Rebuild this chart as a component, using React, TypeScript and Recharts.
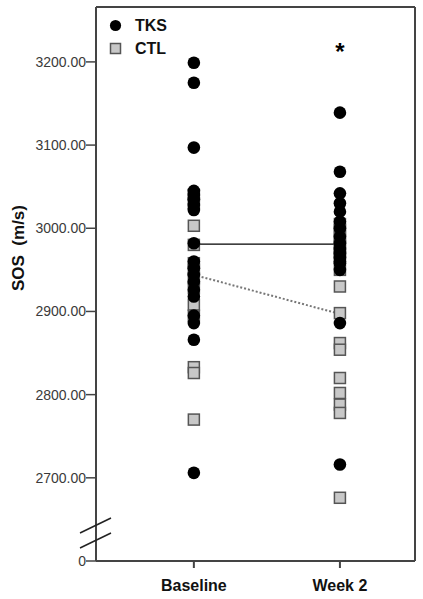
import React from 'react';
import { ComposedChart, Scatter, Line, XAxis, YAxis, ReferenceLine, ReferenceDot, Legend } from 'recharts';

const categories = ['Baseline', 'Week 2'];
const seriesNames = ['TKS', 'CTL'];

const tksBaseline = [3199, 3175, 3097, 3045, 3040, 3035, 3028, 3022, 2982, 2960, 2952, 2944, 2936, 2926, 2918, 2895, 2886, 2866, 2706];
const tksWeek2 = [3139, 3068, 3042, 3030, 3020, 3008, 3000, 2990, 2982, 2975, 2965, 2958, 2950, 2970, 2960, 2886, 2716];
const ctlBaseline = [3040, 3030, 3003, 2980, 2958, 2950, 2940, 2928, 2908, 2895, 2833, 2826, 2770];
const ctlWeek2 = [3005, 2998, 2990, 2985, 2978, 2970, 2965, 2950, 2930, 2898, 2862, 2854, 2820, 2802, 2788, 2778, 2676];

const tksMeans = [2981, 2981];
const ctlMeans = [2944, 2897];

const yTicks = [2600, 2700, 2800, 2900, 3000, 3100, 3200];
const yDomain = [2600, 3266];
const xDomain = [0.33, 2.514];
const significanceMark = '*';
const significanceValue = 3213;

const toPoints = (base: number[], wk: number[]) => [
  ...base.map((v) => ({ x: 1, y: v })),
  ...wk.map((v) => ({ x: 2, y: v })),
];
const tksPoints = toPoints(tksBaseline, tksWeek2);
const ctlPoints = toPoints(ctlBaseline, ctlWeek2);
const tksMeanData = tksMeans.map((v, i) => ({ x: i + 1, y: v }));
const ctlMeanData = ctlMeans.map((v, i) => ({ x: i + 1, y: v }));

const AXIS = '#444';
const FONT = 'Arial, "Liberation Sans", Helvetica, sans-serif';

const Circle = (p: any) => <circle cx={p.cx} cy={p.cy} r={6.3} fill="#000" />;
const Square = (p: any) => (
  <rect x={p.cx - 5.5} y={p.cy - 5.5} width={11} height={11} fill="#c8c8c8" stroke="#555" strokeWidth={1.5} />
);

const YTick = (props: any) => {
  const { x, y, payload } = props;
  const v = payload.value;
  const label = v === yTicks[0] ? '0' : Number(v).toFixed(2);
  return (
    <g>
      <text x={x} y={y} dy="0.36em" textAnchor="end" fill="#3a3a3a" style={{ fontSize: 14, fontFamily: FONT }}>
        {label}
      </text>
      {v === yTicks[0] && (
        <g stroke="#222" strokeWidth={1.5}>
          <line x1={x - 6} y1={y - 28} x2={x + 25} y2={y - 43} />
          <line x1={x - 6} y1={y - 13} x2={x + 25} y2={y - 28} />
        </g>
      )}
    </g>
  );
};

const YLabel = (props: any) => {
  const vb = props.viewBox || { x: 0, y: 7 };
  const cx = vb.x + 18;
  const cy = vb.y + 241;
  return (
    <text
      x={cx}
      y={cy}
      transform={`rotate(-90, ${cx}, ${cy})`}
      textAnchor="middle"
      dominantBaseline="central"
      fill="#111"
      style={{ whiteSpace: 'pre', fontSize: 17, fontWeight: 'bold', fontFamily: FONT }}
    >
      {'SOS  (m/s)'}
    </text>
  );
};

const LegendContent = () => (
  <div style={{ display: 'flex', flexDirection: 'column', fontFamily: FONT }}>
    {seriesNames.map((name, i) => (
      <div key={name} style={{ display: 'flex', alignItems: 'center', height: 23 }}>
        <svg width={13} height={13}>
          {i === 0 ? (
            <circle cx={6.5} cy={6.5} r={5.6} fill="#000" />
          ) : (
            <rect x={1.5} y={1.5} width={10} height={10} fill="#c8c8c8" stroke="#555" strokeWidth={1.5} />
          )}
        </svg>
        <span style={{ marginLeft: 13, fontSize: 16, fontWeight: 'bold', color: '#111' }}>{name}</span>
      </div>
    ))}
  </div>
);

export default function App() {
  return (
    <div style={{ position: 'absolute', left: 0, top: 0, fontFamily: FONT }}>
      <ComposedChart width={423} height={599} margin={{ top: 7, right: 8, bottom: 0, left: 0 }}>
        <XAxis
          type="number"
          dataKey="x"
          domain={xDomain}
          ticks={[1, 2]}
          allowDataOverflow
          tickFormatter={(v: number) => categories[v - 1]}
          height={38}
          tickSize={7}
          tickMargin={12}
          stroke={AXIS}
          axisLine={{ stroke: AXIS, strokeWidth: 2 }}
          tickLine={{ stroke: AXIS, strokeWidth: 2 }}
          tick={{ fontSize: 16, fontWeight: 'bold', fill: '#111' }}
        />
        <YAxis
          type="number"
          dataKey="y"
          domain={yDomain}
          ticks={yTicks}
          allowDataOverflow
          width={96}
          tickSize={10}
          tickMargin={0}
          axisLine={{ stroke: AXIS, strokeWidth: 2 }}
          tickLine={{ stroke: AXIS, strokeWidth: 1.5 }}
          tick={<YTick />}
          label={<YLabel />}
        />
        <ReferenceLine y={yDomain[1]} stroke={AXIS} strokeWidth={2} />
        <ReferenceLine x={xDomain[1]} stroke={AXIS} strokeWidth={2} />
        <Legend
          layout="vertical"
          align="center"
          verticalAlign="middle"
          content={<LegendContent />}
          wrapperStyle={{ top: 14, left: 109, width: 'auto' }}
        />
        <Line data={tksMeanData} dataKey="y" stroke="#000" strokeWidth={1.2} dot={false} isAnimationActive={false} legendType="none" />
        <Line data={ctlMeanData} dataKey="y" stroke="#777" strokeWidth={2} strokeDasharray="2 2" dot={false} isAnimationActive={false} legendType="none" />
        <Scatter name={seriesNames[1]} data={ctlPoints} dataKey="y" shape={<Square />} isAnimationActive={false} />
        <Scatter name={seriesNames[0]} data={tksPoints} dataKey="y" shape={<Circle />} isAnimationActive={false} />
        <ReferenceDot
          x={2}
          y={significanceValue}
          r={0}
          fill="none"
          stroke="none"
          label={{ value: significanceMark, position: 'center', fontSize: 24, fontWeight: 'bold', fill: '#000' }}
        />
      </ComposedChart>
    </div>
  );
}
